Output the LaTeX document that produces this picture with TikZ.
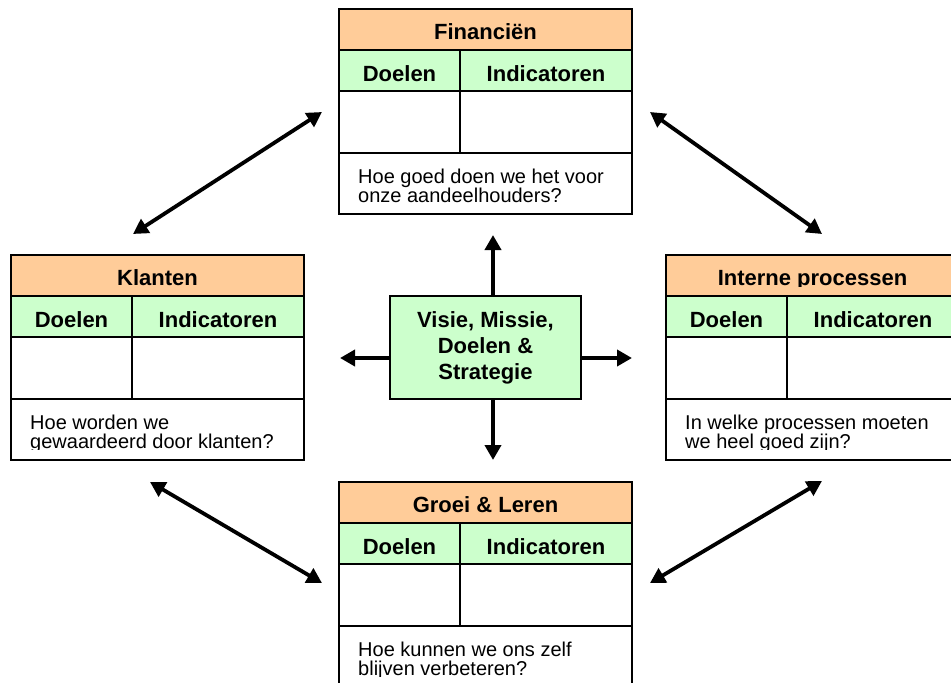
\documentclass[tikz,border=0pt]{standalone}
\usepackage{fontspec}
\setmainfont{Liberation Sans}
\usetikzlibrary{arrows.meta}
\definecolor{hdr}{RGB}{255,204,153}
\definecolor{grn}{RGB}{204,255,204}
\newcommand\persp[6]{%
  \node[hdrbox] (#1-h) at (#2,#3) {};
  \node[lcell] (#1-gl) at (#2,#3+41) {};
  \node[rcell] (#1-gr) at (#2+121,#3+41) {};
  \node[lempty] (#1-el) at (#2,#3+82) {};
  \node[rempty] (#1-er) at (#2+121,#3+82) {};
  \node[txtcell] (#1-q) at (#2,#3+144) {};
  \begin{scope}
    \clip (#2,#3) rectangle (#2+293,#3+31);
    \node[ttl] (#1-t) at (#2+146.5,#3+30) {#4};
  \end{scope}
  \node[ttl] (#1-d) at (#2+60.5,#3+72) {Doelen};
  \node[ttl] (#1-i) at (#2+207,#3+72) {Indicatoren};
  \begin{scope}
    \clip (#2,#3+144) rectangle (#2+293,#3+194.5);
    \node[qtxt] (#1-q1) at (#2+19,#3+174) {#5};
    \node[qtxt] (#1-q2) at (#2+19,#3+193) {#6};
  \end{scope}
}
\begin{document}
\begin{tikzpicture}[x=1pt,y=-1pt,
  cellbase/.style={draw=black,line width=1.6pt,anchor=north west,inner sep=0pt,outer sep=0pt},
  hdrbox/.style={cellbase,fill=hdr,minimum width=293pt,minimum height=41pt},
  lcell/.style={cellbase,fill=grn,minimum width=121pt,minimum height=41pt},
  rcell/.style={cellbase,fill=grn,minimum width=172pt,minimum height=41pt},
  lempty/.style={cellbase,fill=white,minimum width=121pt,minimum height=62pt},
  rempty/.style={cellbase,fill=white,minimum width=172pt,minimum height=62pt},
  txtcell/.style={cellbase,fill=white,minimum width=293pt,minimum height=61pt},
  ttl/.style={font=\fontsize{22}{26}\selectfont\bfseries,inner sep=0pt,anchor=base},
  qtxt/.style={font=\fontsize{20}{21}\selectfont,inner sep=0pt,anchor=base west},
  visbox/.style={draw=black,line width=1.6pt,fill=grn,minimum width=191pt,minimum height=103pt,
    inner sep=0pt,align=center,font=\fontsize{22}{26}\selectfont\bfseries},
  arr/.style={line width=3.8pt,-{Triangle[length=15pt,width=16pt]}},
  darr/.style={line width=3.8pt,{Triangle[length=15pt,width=16pt]}-{Triangle[length=15pt,width=16pt]}}]
\clip (0,0) rectangle (951,683);
\fill[white] (0,0) rectangle (951,683);
\persp{fin}{339}{9}{Financiën}{Hoe goed doen we het voor}{onze aandeelhouders?}
\persp{kla}{11}{255}{Klanten}{Hoe worden we}{gewaardeerd door klanten?}
\persp{int}{666}{255}{Interne processen}{In welke processen moeten}{we heel goed zijn?}
\persp{gro}{339}{482}{Groei \& Leren}{Hoe kunnen we ons zelf}{blijven verbeteren?}
\node[visbox] (vis) at (485.5,347.5) {Visie, Missie,\\Doelen \&\\Strategie};
\coordinate (tU) at (493,235);
\coordinate (tD) at (493,460);
\coordinate (tL) at (340,358);
\coordinate (tR) at (632,358);
\draw[arr] (vis.north -| tU) -- (tU);
\draw[arr] (vis.south -| tD) -- (tD);
\draw[arr] (vis.west |- tL) -- (tL);
\draw[arr] (vis.east |- tR) -- (tR);
\coordinate (a1) at (322,112); \coordinate (a2) at (133,234);
\coordinate (b1) at (650,112); \coordinate (b2) at (822,234);
\coordinate (c1) at (150,482); \coordinate (c2) at (322,583);
\coordinate (d1) at (822,481); \coordinate (d2) at (650,583);
\draw[darr] (a2) -- (a1);
\draw[darr] (b1) -- (b2);
\draw[darr] (c1) -- (c2);
\draw[darr] (d2) -- (d1);
\end{tikzpicture}
\end{document}
